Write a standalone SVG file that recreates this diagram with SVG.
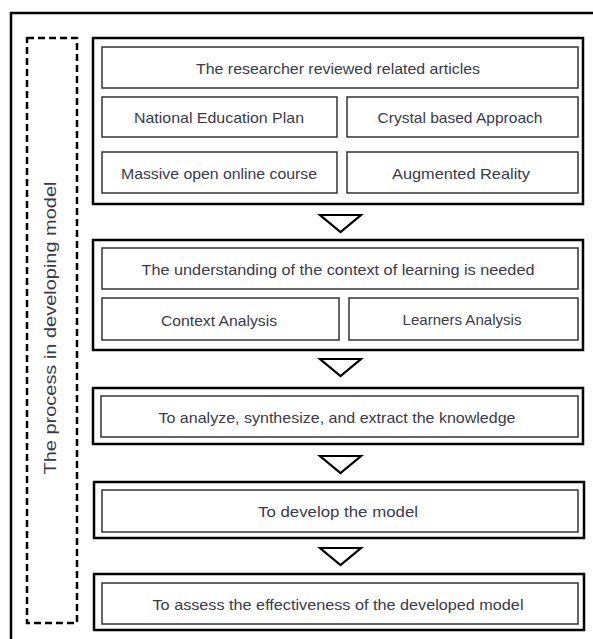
<svg xmlns="http://www.w3.org/2000/svg" width="593" height="639" viewBox="0 0 593 639">
<style>
  .frame{fill:none;stroke:#000;stroke-width:2.5}
  .dash{fill:none;stroke:#000;stroke-width:2.5;stroke-dasharray:7,4}
  .outer{fill:#fff;stroke:#000;stroke-width:2.5}
  .inner{fill:#fff;stroke:#333;stroke-width:1.5}
  .tri{fill:#fff;stroke:#000;stroke-width:2.2;stroke-linejoin:miter}
  text{font-family:"Liberation Sans","DejaVu Sans",sans-serif;font-size:15px;fill:#3a3a48;text-anchor:middle;dominant-baseline:central}
  .side{font-size:17px}
</style>
<rect width="593" height="639" fill="#fff"/>
<rect class="frame" x="11" y="13" width="620" height="650"/>
<g id="side-label">
  <rect class="dash" x="27" y="38" width="50" height="585"/>
  <text class="side" transform="translate(50,328) rotate(-90)" textLength="293" lengthAdjust="spacingAndGlyphs">The process in developing model</text>
</g>
<g id="step1">
  <rect class="outer" x="93" y="38" width="490" height="166"/>
  <rect class="inner" x="102" y="47" width="476" height="41"/>
  <text x="338" y="68" textLength="284" lengthAdjust="spacingAndGlyphs">The researcher reviewed related articles</text>
  <rect class="inner" x="102" y="97" width="235" height="40"/>
  <text x="219" y="117" textLength="170" lengthAdjust="spacingAndGlyphs">National Education Plan</text>
  <rect class="inner" x="347" y="97" width="231" height="40"/>
  <text x="460" y="117" textLength="165" lengthAdjust="spacingAndGlyphs">Crystal based Approach</text>
  <rect class="inner" x="102" y="152" width="235" height="41"/>
  <text x="219" y="173" textLength="196" lengthAdjust="spacingAndGlyphs">Massive open online course</text>
  <rect class="inner" x="347" y="152" width="231" height="41"/>
  <text x="461" y="173" textLength="138" lengthAdjust="spacingAndGlyphs">Augmented  Reality</text>
</g>
<g id="step2">
  <rect class="outer" x="93" y="240" width="490" height="110"/>
  <rect class="inner" x="102" y="248" width="476" height="41"/>
  <text x="338" y="269" textLength="393" lengthAdjust="spacingAndGlyphs">The understanding of the context of learning is needed</text>
  <rect class="inner" x="102" y="298" width="237" height="42"/>
  <text x="219" y="320" textLength="116" lengthAdjust="spacingAndGlyphs">Context Analysis</text>
  <rect class="inner" x="349" y="298" width="229" height="42"/>
  <text x="462" y="319" textLength="119" lengthAdjust="spacingAndGlyphs">Learners Analysis</text>
</g>
<g id="step3">
  <rect class="outer" x="93" y="388" width="490" height="56"/>
  <rect class="inner" x="101" y="396" width="477" height="41"/>
  <text x="337" y="417" textLength="357" lengthAdjust="spacingAndGlyphs">To analyze, synthesize, and extract the knowledge</text>
</g>
<g id="step4">
  <rect class="outer" x="94" y="482" width="490" height="56"/>
  <rect class="inner" x="102" y="490" width="476" height="42"/>
  <text x="338" y="511" textLength="160" lengthAdjust="spacingAndGlyphs">To develop the model</text>
</g>
<g id="step5">
  <rect class="outer" x="94" y="574" width="490" height="56"/>
  <rect class="inner" x="102" y="583" width="476" height="41"/>
  <text x="338" y="604" textLength="371" lengthAdjust="spacingAndGlyphs">To assess the effectiveness of the developed model</text>
</g>
<g id="connectors">
  <polygon class="tri" points="320,215 361,215 340.5,232"/>
  <polygon class="tri" points="320,359 361,359 340.5,376"/>
  <polygon class="tri" points="320,456 361,456 340.5,473"/>
  <polygon class="tri" points="320,548 361,548 340.5,565"/>
</g>
</svg>
